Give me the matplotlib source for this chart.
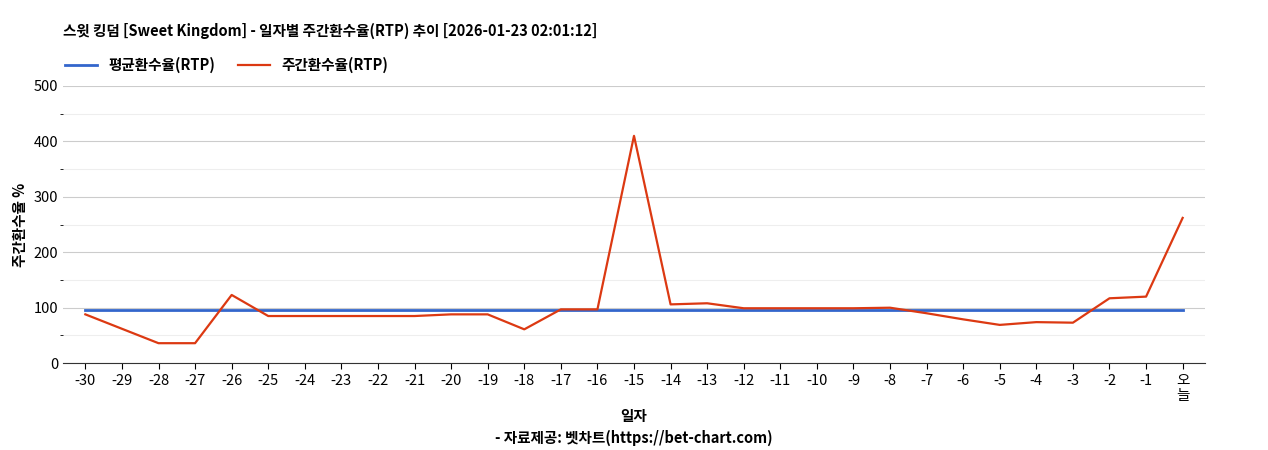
import matplotlib.pyplot as plt

plt.rcParams['font.family'] = ['Noto Sans CJK KR', 'DejaVu Sans']

days = [str(d) for d in range(-30, 0)] + ['오\n늘']
weekly_rtp = [88, 62, 36, 36, 123, 85, 85, 85, 85, 85, 88, 88, 61, 97, 97, 410,
              106, 108, 99, 99, 99, 99, 100, 90, 79, 69, 74, 73, 117, 120, 262]
avg_rtp = [96] * len(days)

fig = plt.figure(figsize=(12.68, 4.5), dpi=100)
ax = fig.add_axes([0.05, 0.193, 0.9, 0.616])
x = range(len(days))
ax.plot(x, avg_rtp, color='#3366cc', lw=2, label='평균환수율(RTP)')
ax.plot(x, weekly_rtp, color='#dc3912', lw=1.6, label='주간환수율(RTP)')

ax.set_ylim(0, 500)
ax.set_xlim(-0.6, len(days) - 0.4)
ax.set_yticks(range(0, 501, 100))
ax.set_yticks(range(50, 500, 100), minor=True)
ax.grid(axis='y', which='major', color='#cccccc', lw=0.8)
ax.grid(axis='y', which='minor', color='#eeeeee', lw=0.8)
ax.set_axisbelow(True)
ax.set_xticks(list(x))
ax.set_xticklabels(days, fontsize=10.5, va='top', linespacing=1.1)
ax.tick_params(axis='y', labelsize=10.5, length=0)
ax.tick_params(axis='x', length=4)
for s in ['top', 'right', 'left']:
    ax.spines[s].set_visible(False)
ax.spines['bottom'].set_color('#333333')

ax.set_ylabel('주간환수율 %', fontsize=10.5, fontweight='bold')
ax.set_xlabel('일자\n- 자료제공: 벳차트(https://bet-chart.com)', fontsize=10.5, fontweight='bold',
              linespacing=1.4)

fig.text(0.05, 0.92, '스윗 킹덤 [Sweet Kingdom] - 일자별 주간환수율(RTP) 추이 [2026-01-23 02:01:12]',
         fontsize=10.5, fontweight='bold')
ax.legend(loc='lower left', bbox_to_anchor=(-0.01, 1.0), ncol=2, frameon=False,
          prop={'weight': 'bold', 'size': 10.5}, handlelength=2.2, columnspacing=1.5)

fig.savefig('out.png')
